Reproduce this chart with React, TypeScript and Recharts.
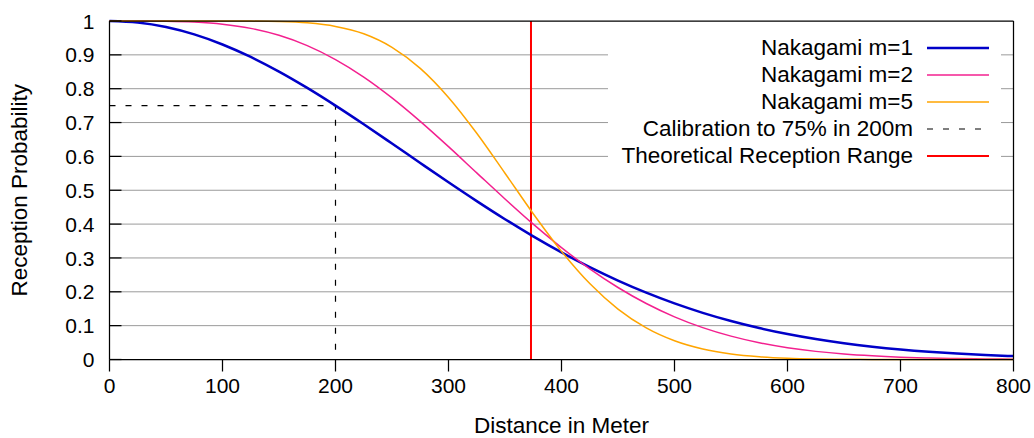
import { LineChart, Line, XAxis, YAxis, CartesianGrid, Legend, ReferenceLine } from "recharts";

// distance in meter, sampled every 25 m
const distances = [0, 25, 50, 75, 100, 125, 150, 175, 200, 225, 250, 275, 300, 325, 350, 375, 400, 425, 450, 475, 500, 525, 550, 575, 600, 625, 650, 675, 700, 725, 750, 775, 800];

const nakagamiM1 = [1, 0.9955, 0.9822, 0.9604, 0.9306, 0.8937, 0.8506, 0.8023, 0.75, 0.6949, 0.638, 0.5805, 0.5235, 0.4679, 0.4144, 0.3637, 0.3164, 0.2728, 0.2331, 0.1974, 0.1657, 0.1378, 0.1136, 0.0928, 0.0751, 0.0603, 0.0479, 0.0378, 0.0295, 0.0228, 0.0175, 0.0133, 0.01];
const nakagamiM2 = [1, 1, 0.9994, 0.9969, 0.9906, 0.9782, 0.9577, 0.9273, 0.8861, 0.8344, 0.7729, 0.7035, 0.6288, 0.5514, 0.4743, 0.3999, 0.3306, 0.2678, 0.2127, 0.1654, 0.1261, 0.0942, 0.069, 0.0495, 0.0348, 0.024, 0.0162, 0.0108, 0.007, 0.0045, 0.0028, 0.0017, 0.001];
const nakagamiM5 = [1, 1, 1, 1, 0.99995, 0.9997, 0.9985, 0.9945, 0.984, 0.9623, 0.9223, 0.86, 0.7742, 0.6683, 0.5503, 0.4306, 0.3195, 0.2243, 0.149, 0.0933, 0.0553, 0.031, 0.0164, 0.0082, 0.0039, 0.0017, 0.0007, 0.0003, 0.0001, 0, 0, 0, 0];

const calibrationX = [0, 200, 200];
const calibrationY = [0.75, 0.75, 0];
const receptionRange = 373;

const xTicks = [0, 100, 200, 300, 400, 500, 600, 700, 800];
const yTicks = [0, 0.1, 0.2, 0.3, 0.4, 0.5, 0.6, 0.7, 0.8, 0.9, 1];
const gridValues = [0.1, 0.2, 0.3, 0.4, 0.5, 0.6, 0.7, 0.8, 0.9];

const legendItems = [
  { name: "Nakagami m=1", color: "#0000c8", width: 2.5, dash: undefined },
  { name: "Nakagami m=2", color: "#f3208f", width: 1.5, dash: undefined },
  { name: "Nakagami m=5", color: "#ffa500", width: 1.5, dash: undefined },
  { name: "Calibration to 75% in 200m", color: "#000", width: 1.2, dash: "6 10" },
  { name: "Theoretical Reception Range", color: "#ff0000", width: 2, dash: undefined },
];

const data = distances.map((d, i) => ({ d, m1: nakagamiM1[i], m2: nakagamiM2[i], m5: nakagamiM5[i] }));
const calibration = calibrationX.map((d, i) => ({ d, p: calibrationY[i] }));

const FONT = "'Liberation Sans', Arial, sans-serif";
const frame = { stroke: "#000", strokeWidth: 1.25 };

function YTick(props: any) {
  const { x, y, payload } = props;
  return (
    <g>
      <line x1={x + 15} x2={x + 27} y1={y} y2={y} stroke="#000" strokeWidth={1.25} />
      <text x={x} y={y} dy="0.36em" textAnchor="end" fontSize={21} fontFamily={FONT} fill="#000">
        {String(payload.value)}
      </text>
    </g>
  );
}

function KeyBox() {
  return (
    <div style={{ paddingTop: 12, fontFamily: FONT, fontSize: 22.5 }}>
      {legendItems.map((it) => (
        <div key={it.name} style={{ display: "flex", alignItems: "center", height: 26.8 }}>
          <span style={{ width: 305, textAlign: "right", color: "#000", whiteSpace: "nowrap" }}>{it.name}</span>
          <svg width={62} height={10} style={{ marginLeft: 14 }}>
            <line x1={0} x2={62} y1={5} y2={5} stroke={it.color} strokeWidth={it.width} strokeDasharray={it.dash} />
          </svg>
        </div>
      ))}
    </div>
  );
}

export default function App() {
  return (
    <div style={{ position: "absolute", left: 0, top: 0, background: "#fff" }}>
      <LineChart width={1034} height={438} data={data} margin={{ top: 20, right: 19.5, bottom: 0, left: 0 }}>
        <CartesianGrid vertical={false} horizontalValues={gridValues} stroke="#9a9a9a" strokeWidth={1} />
        <XAxis
          dataKey="d"
          type="number"
          domain={[0, 800]}
          ticks={xTicks}
          height={78.5}
          axisLine={frame}
          tickSize={12}
          tickMargin={7}
          tickLine={frame}
          tick={{ fill: "#000", fontSize: 21, fontFamily: FONT }}
          label={{ value: "Distance in Meter", position: "insideBottom", offset: 5, fill: "#000", fontSize: 22.5, fontFamily: FONT }}
        />
        <XAxis xAxisId="top" orientation="top" dataKey="d" type="number" domain={[0, 800]} height={1} axisLine={frame} tick={false} tickLine={false} />
        <YAxis
          type="number"
          domain={[0, 1]}
          ticks={yTicks}
          width={109.5}
          axisLine={frame}
          tickLine={false}
          tickSize={0}
          tickMargin={15}
          tick={<YTick />}
          label={(p: any) => {
            const vb = p.viewBox || { y: 21, height: 338.5 };
            const cy = vb.y + vb.height / 2;
            return (
              <text x={26.5} y={cy} transform={`rotate(-90 26.5 ${cy})`} textAnchor="middle" fontSize={22.5} fontFamily={FONT} fill="#000">
                Reception Probability
              </text>
            );
          }}
        />
        <YAxis yAxisId="right" orientation="right" type="number" domain={[0, 1]} width={1} axisLine={frame} tick={false} tickLine={false} />
        <ReferenceLine x={receptionRange} stroke="#ff0000" strokeWidth={2} />
        <Line data={calibration} dataKey="p" type="linear" stroke="#000" strokeWidth={1.2} strokeDasharray="6 10" dot={false} isAnimationActive={false} />
        <Line dataKey="m1" type="monotone" stroke="#0000c8" strokeWidth={2.5} dot={false} isAnimationActive={false} />
        <Line dataKey="m2" type="monotone" stroke="#f3208f" strokeWidth={1.5} dot={false} isAnimationActive={false} />
        <Line dataKey="m5" type="monotone" stroke="#ffa500" strokeWidth={1.5} dot={false} isAnimationActive={false} />
        <Legend
          layout="horizontal"
          verticalAlign="middle"
          align="center"
          content={() => <KeyBox />}
          wrapperStyle={{ left: 608, top: 23, width: 393, height: 150, backgroundColor: "#fff" }}
        />
      </LineChart>
    </div>
  );
}
